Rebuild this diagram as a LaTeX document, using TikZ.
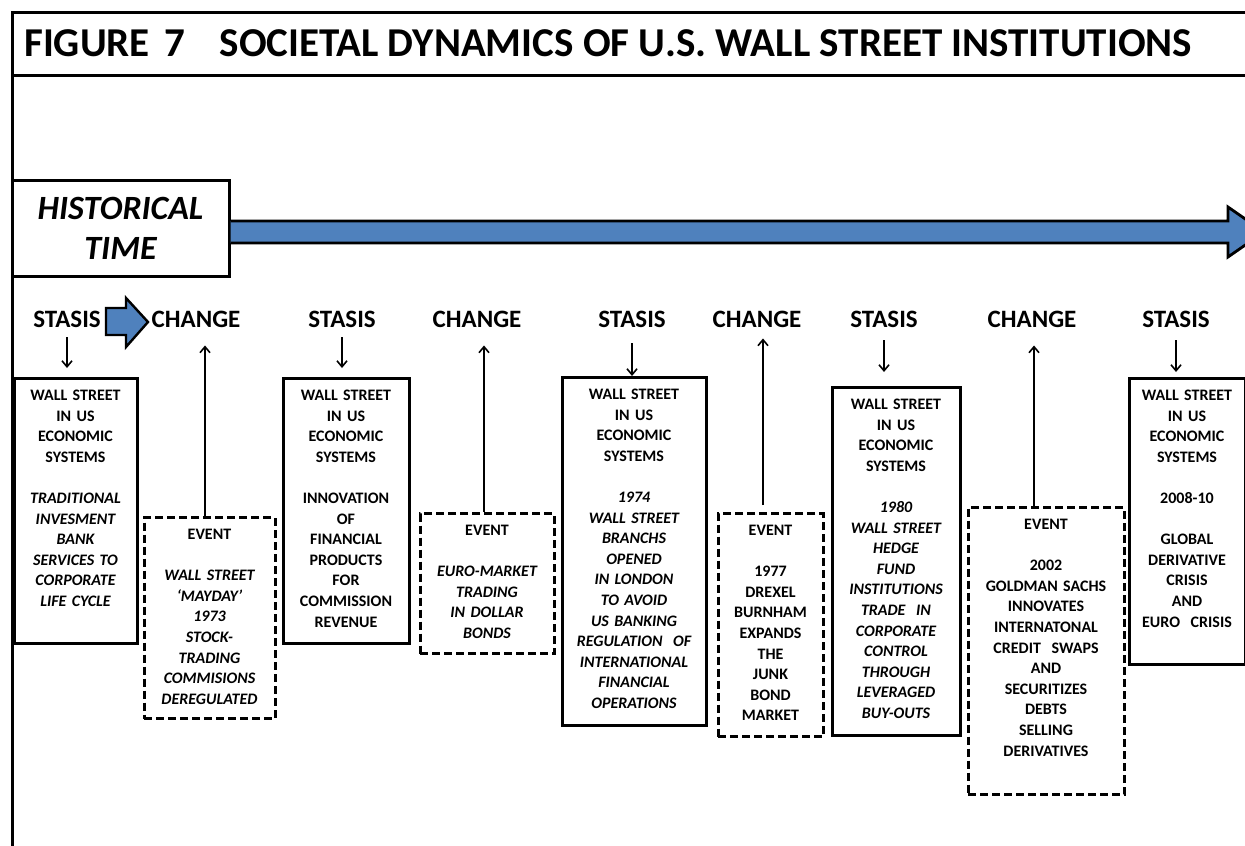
\documentclass[tikz,border=0pt]{standalone}
\usepackage{fontspec}
\setmainfont{Carlito}
\usetikzlibrary{positioning,arrows.meta}

\definecolor{timeblue}{HTML}{4F81BD}
\newcommand{\gapline}{\\[20.6pt]}

\tikzset{
  frame/.style={line width=3pt},
  titletext/.style={font=\bfseries\fontsize{41}{48}\selectfont, anchor=west, inner sep=0pt},
  histbox/.style={draw, line width=3pt, align=center, minimum width=217pt, minimum height=96pt,
    font=\bfseries\itshape\fontsize{34}{40}\selectfont},
  bluearrow/.style={fill=timeblue, draw=black, line width=2.8pt, line join=miter},
  phase/.style={font=\bfseries\fontsize{25}{30}\selectfont, inner sep=3pt},
  wsbox/.style={draw, line width=3pt, anchor=north, align=center, inner xsep=2pt, inner ysep=4pt,
    text height=18pt, font=\bfseries\fontsize{16}{20.6}\selectfont},
  eventbox/.style={wsbox, dash pattern=on 8pt off 4pt},
  thinarrow/.style={-{Straight Barb[length=6pt,width=10pt]}, line width=1.6pt}
}

\begin{document}
\begin{tikzpicture}[x=1pt, y=-1pt]
  \useasboundingbox (0,0) rectangle (1245,846);

  % Frame and title
  \draw[frame] (12,846) -- (12,12) -- (1250,12);
  \draw[frame] (12,75) -- (1250,75);
  \node[titletext] (title) at (24,43)
    {FIGURE\hspace{15pt}7\hspace{34pt}SOCIETAL DYNAMICS OF U.S. WALL STREET INSTITUTIONS};

  % Historical time and its arrow
  \node[histbox] (hist) at (120.5,228) {HISTORICAL\\TIME};
  \draw[bluearrow] (hist.east |- 0,221) -- (1228,221) -- (1228,207) -- (1264,232)
    -- (1228,257) -- (1228,243) -- (hist.east |- 0,243);

  % Stasis and change labels
  \node[phase] (s1) at (67,319) {STASIS};
  \node[phase] (c1) at (196,319) {CHANGE};
  \node[phase] (s2) at (342,319) {STASIS};
  \node[phase] (c2) at (477,319) {CHANGE};
  \node[phase] (s3) at (632,319) {STASIS};
  \node[phase] (c3) at (757,319) {CHANGE};
  \node[phase] (s4) at (884,319) {STASIS};
  \node[phase] (c4) at (1032,319) {CHANGE};
  \node[phase] (s5) at (1176,319) {STASIS};
  \draw[bluearrow, line width=2.4pt] (106,308) -- (126,308) -- (126,298) -- (148,322)
    -- (126,347) -- (126,335) -- (106,335) -- cycle;

  % Stasis boxes
  \node[wsbox, text width=119pt, text depth=239pt] (b1) at (75.5,377)
    {WALL STREET\\IN US\\ECONOMIC\\SYSTEMS\gapline \itshape TRADITIONAL\\INVESMENT\\BANK\\SERVICES TO\\CORPORATE\\LIFE CYCLE};
  \node[wsbox, text width=122pt, text depth=239pt] (b2) at (346,377)
    {WALL STREET\\IN US\\ECONOMIC\\SYSTEMS\gapline INNOVATION\\OF\\FINANCIAL\\PRODUCTS\\FOR\\COMMISSION\\REVENUE};
  \node[wsbox, text width=140pt, text depth=322pt] (b3) at (634,376)
    {WALL STREET\\IN US\\ECONOMIC\\SYSTEMS\gapline \itshape 1974\\WALL STREET\\BRANCHS\\OPENED\\IN LONDON\\TO AVOID\\US BANKING\\REGULATION\ \ OF\\INTERNATIONAL\\FINANCIAL\\OPERATIONS};
  \node[wsbox, text width=124pt, text depth=322pt] (b4) at (896,386)
    {WALL STREET\\IN US\\ECONOMIC\\SYSTEMS\gapline \itshape 1980\\WALL STREET\\HEDGE\\FUND\\INSTITUTIONS\\TRADE\ \ IN\\CORPORATE\\CONTROL\\THROUGH\\LEVERAGED\\BUY-OUTS};
  \node[wsbox, text width=112pt, text depth=260pt] (b5) at (1187,377)
    {WALL STREET\\IN US\\ECONOMIC\\SYSTEMS\gapline 2008-10\gapline GLOBAL\\DERIVATIVE\\CRISIS\\AND\\EURO\ \ CRISIS};

  % Event boxes
  \node[eventbox, text width=127pt, text depth=175pt] (e1) at (209.5,516)
    {EVENT\gapline \itshape WALL STREET\\`MAYDAY'\\1973\\STOCK-\\TRADING\\COMMISIONS\\DEREGULATED};
  \node[eventbox, text width=130pt, text depth=114pt] (e2) at (487,512)
    {EVENT\gapline \itshape EURO-MARKET\\TRADING\\IN DOLLAR\\BONDS};
  \node[eventbox, text width=101pt, text depth=197pt] (e3) at (770.5,512)
    {EVENT\gapline 1977\\DREXEL\\BURNHAM\\EXPANDS\\THE\\JUNK\\BOND\\MARKET};
  \node[eventbox, text width=152pt, text depth=261pt] (e4) at (1046,506)
    {EVENT\gapline 2002\\GOLDMAN SACHS\\INNOVATES\\INTERNATONAL\\CREDIT\ \ SWAPS\\AND\\SECURITIZES\\DEBTS\\SELLING\\DERIVATIVES};

  % Stasis arrows
  \draw[thinarrow, shorten <=7pt, shorten >=9pt] (s1.south) -- (s1.south |- b1.north);
  \draw[thinarrow, shorten <=7pt, shorten >=9pt] (s2.south) -- (s2.south |- b2.north);
  \draw[thinarrow, shorten <=13pt] (s3.south) -- (s3.south |- b3.north);
  \draw[thinarrow, shorten <=10pt, shorten >=14pt] (s4.south) -- (s4.south |- b4.north);
  \draw[thinarrow, shorten <=10pt, shorten >=5pt] (s5.south) -- (s5.south |- b5.north);

  % Change arrows
  \draw[thinarrow, shorten >=15pt] ([xshift=-4.5pt]e1.north) -- ([xshift=-4.5pt]e1.north |- c1.south);
  \draw[thinarrow, shorten >=15pt] ([xshift=-3pt]e2.north) -- ([xshift=-3pt]e2.north |- c2.south);
  \draw[thinarrow, shorten <=7pt, shorten >=8pt] ([xshift=-7.5pt]e3.north) -- ([xshift=-7.5pt]e3.north |- c3.south);
  \draw[thinarrow, shorten >=15pt] ([xshift=-12pt]e4.north) -- ([xshift=-12pt]e4.north |- c4.south);
\end{tikzpicture}
\end{document}
